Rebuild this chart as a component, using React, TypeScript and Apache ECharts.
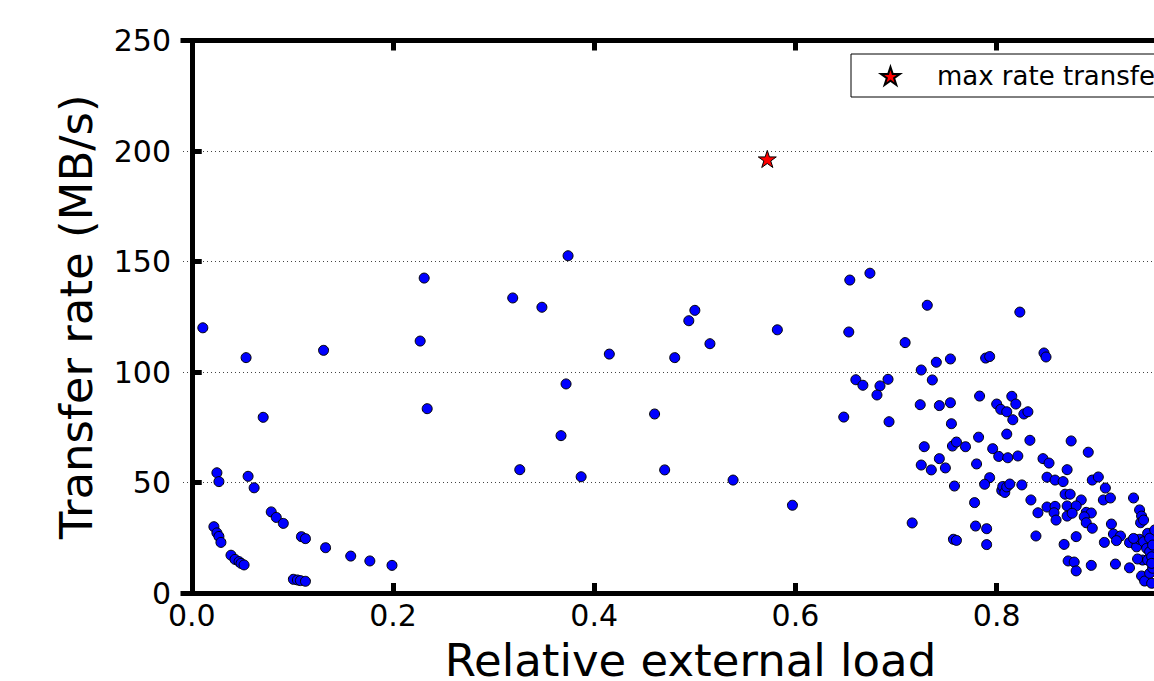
import React, { useEffect, useRef } from "react";
import * as echarts from "echarts";

// Relative external load (x) and transfer rate in MB/s (y) for each run
const relLoad = [
  0.011, 0.054, 0.131, 0.227, 0.234, 0.071, 0.025, 0.027, 0.056, 0.062,
  0.079, 0.084, 0.091, 0.022, 0.025, 0.027, 0.029, 0.109, 0.113, 0.133,
  0.158, 0.177, 0.199, 0.039, 0.043, 0.047, 0.049, 0.052, 0.101, 0.105,
  0.108, 0.113,
  0.374, 0.231, 0.319, 0.348, 0.500, 0.494, 0.582, 0.515, 0.415, 0.480,
  0.372, 0.460, 0.367, 0.326, 0.387, 0.470, 0.538, 0.597,
  0.674, 0.654, 0.731, 0.653, 0.709, 0.740, 0.754, 0.725, 0.660, 0.667,
  0.692, 0.684, 0.681, 0.736, 0.724, 0.743, 0.754, 0.648, 0.693, 0.755,
  0.783, 0.782, 0.728, 0.756, 0.760, 0.769, 0.780, 0.725, 0.743, 0.735,
  0.749, 0.758, 0.778, 0.779, 0.716, 0.757, 0.760, 0.789, 0.793, 0.815,
  0.800, 0.804, 0.810, 0.819, 0.816, 0.827, 0.831, 0.810, 0.833, 0.796,
  0.802, 0.811, 0.821, 0.846, 0.852, 0.793, 0.788, 0.805, 0.806, 0.808,
  0.810, 0.813, 0.825, 0.850, 0.858, 0.834, 0.841, 0.850, 0.858, 0.857,
  0.859, 0.790, 0.790, 0.839, 0.823, 0.847, 0.849, 0.874, 0.891, 0.870,
  0.866, 0.895, 0.901, 0.908, 0.906, 0.913, 0.936, 0.868, 0.873, 0.884,
  0.870, 0.870, 0.879, 0.875, 0.889, 0.894, 0.887, 0.889, 0.895, 0.914,
  0.916, 0.923, 0.919, 0.907, 0.879, 0.867, 0.871, 0.877, 0.879, 0.894,
  0.918, 0.932, 0.942, 0.944, 0.943, 0.946, 0.944, 0.947,
  0.932, 0.938, 0.939, 0.942, 0.946, 0.950, 0.952, 0.949, 0.952, 0.945,
  0.950, 0.940, 0.954, 0.954, 0.952, 0.955, 0.954, 0.957, 0.955, 0.936,
];
const rate = [
  120.0, 106.5, 109.8, 114.0, 83.4, 79.5, 54.4, 50.4, 52.8, 47.6,
  36.7, 34.2, 31.5, 30.0, 27.2, 25.6, 22.9, 25.5, 24.6, 20.5,
  16.7, 14.5, 12.5, 17.1, 15.2, 14.2, 13.4, 12.7, 6.2, 5.9,
  5.6, 5.3,
  152.6, 142.5, 133.5, 129.3, 127.9, 123.2, 119.1, 112.8, 108.1, 106.5,
  94.6, 81.0, 71.2, 55.8, 52.6, 55.7, 51.1, 39.7,
  144.7, 141.6, 130.2, 118.1, 113.3, 104.4, 105.9, 100.9, 96.5, 94.0,
  96.7, 93.7, 89.6, 96.4, 85.2, 84.8, 86.1, 79.6, 77.5, 76.6,
  89.1, 70.5, 66.2, 66.5, 68.3, 66.2, 58.4, 57.9, 60.8, 55.7,
  56.6, 48.4, 40.9, 30.3, 31.7, 24.3, 23.8, 106.3, 107.0, 89.0,
  85.5, 83.1, 82.0, 85.5, 78.4, 81.0, 82.0, 71.9, 69.1, 65.3,
  61.8, 61.2, 62.0, 60.8, 58.8, 52.2, 49.2, 46.4, 48.2, 45.5,
  48.0, 49.3, 48.9, 52.4, 51.1, 42.1, 36.3, 38.9, 39.2, 36.3,
  33.0, 29.1, 21.9, 25.8, 127.1, 108.6, 106.8, 68.8, 63.7, 55.8,
  50.4, 51.1, 52.5, 47.5, 42.1, 43.0, 43.0, 44.7, 44.7, 42.1,
  39.4, 34.8, 39.4, 36.1, 36.5, 36.2, 34.5, 31.8, 29.3, 31.2,
  26.7, 25.8, 23.7, 22.9, 25.5, 22.0, 14.5, 14.0, 10.0, 12.5,
  13.1, 11.4, 37.6, 34.8, 31.8, 33.0, 7.7, 5.4,
  22.8, 24.0, 20.9, 24.3, 23.2, 27.0, 24.8, 20.2, 18.7, 14.9,
  14.9, 15.4, 16.4, 4.4, 8.9, 11.2, 13.4, 28.5, 21.7, 24.7,
];
const maxLoad = [0.572];
const maxRate = [196.4];

const xTicks = [0, 0.2, 0.4, 0.6, 0.8, 1.0];
const xTickLabels = [0, 0.2, 0.4, 0.6, 0.8];
const yTicks = [0, 50, 100, 150, 200, 250];
const legendName = "max rate transfer";

const STAR =
  "path://M0,-10 L2.245,-3.09 L9.511,-3.09 L3.633,1.18 L5.878,8.09 L0,3.82 L-5.878,8.09 L-3.633,1.18 L-9.511,-3.09 L-2.245,-3.09 Z";

const FONT = "DejaVu Sans";

export default function App() {
  const ref = useRef<HTMLDivElement>(null);
  useEffect(() => {
    if (!ref.current) return;
    const chart = echarts.init(ref.current, null, { renderer: "svg" });
    const pts = relLoad.map((x, i) => [x, rate[i]]);
    const star = maxLoad.map((x, i) => [x, maxRate[i]]);
    const axisLine = { show: true, lineStyle: { color: "#000", width: 5, cap: "square" } };
    const tick = { show: true, inside: true, length: 10, lineStyle: { color: "#000", width: 5 } };
    chart.setOption({
      animation: false,
      backgroundColor: "#fff",
      grid: {
        left: 183,
        right: 52,
        top: 40.5,
        bottom: 88,
        containLabel: false,
        outerBoundsMode: "none",
      },
      legend: {
        data: [legendName],
        left: 851,
        top: 54,
        orient: "vertical",
        backgroundColor: "#fff",
        borderColor: "#000",
        borderWidth: 1,
        borderRadius: 0,
        padding: [9, 20, 8, 29],
        itemWidth: 19,
        itemHeight: 18,
        textStyle: { fontFamily: FONT, fontSize: 26, color: "#000", padding: [0, 0, 0, 32] },
      },
      xAxis: [
        {
          type: "value",
          min: -0.0087,
          max: 1.01,
          name: "Relative external load",
          nameLocation: "middle",
          nameGap: 45,
          nameTextStyle: {
            fontFamily: FONT,
            fontSize: 45,
            color: "#000",
            padding: [0, 10, 0, 0],
          },
          axisLine,
          axisTick: { ...tick, customValues: xTicks },
          axisLabel: {
            customValues: xTickLabels,
            formatter: (v: number) => v.toFixed(1),
            fontFamily: FONT,
            fontSize: 30,
            color: "#000",
            margin: 7,
          },
          splitLine: { show: false },
        },
        {
          type: "value",
          position: "top",
          min: -0.0087,
          max: 1.01,
          axisLine,
          axisTick: { ...tick, customValues: xTicks },
          axisLabel: { show: false },
          splitLine: { show: false },
        },
      ],
      yAxis: {
        type: "value",
        min: 0,
        max: 250,
        interval: 50,
        name: "Transfer rate (MB/s)",
        nameLocation: "middle",
        nameGap: 84,
        nameTextStyle: { fontFamily: FONT, fontSize: 45, color: "#000" },
        axisLine,
        axisTick: tick,
        axisLabel: {
          formatter: (v: number) => (yTicks.includes(v) ? String(v) : ""),
          fontFamily: FONT,
          fontSize: 30,
          color: "#000",
          margin: 12,
        },
        splitLine: { show: true, lineStyle: { color: "#444", width: 1, type: [1, 3] } },
      },
      series: [
        {
          name: "runs",
          type: "scatter",
          data: pts,
          symbol: "circle",
          symbolSize: 10,
          itemStyle: { color: "#0000ff", borderColor: "#000", borderWidth: 1, opacity: 1 },
          z: 2,
        },
        {
          name: legendName,
          type: "scatter",
          data: star,
          symbol: STAR,
          symbolSize: 18,
          symbolKeepAspect: true,
          itemStyle: { color: "#ff0000", borderColor: "#000", borderWidth: 1, opacity: 1 },
          z: 3,
        },
      ],
    });
    return () => chart.dispose();
  }, []);
  return (
    <div
      style={{
        position: "fixed",
        left: 0,
        top: 0,
        width: 1154,
        height: 681,
        overflow: "hidden",
        background: "#fff",
      }}
    >
      <div ref={ref} style={{ width: 1260, height: 681 }} />
    </div>
  );
}
